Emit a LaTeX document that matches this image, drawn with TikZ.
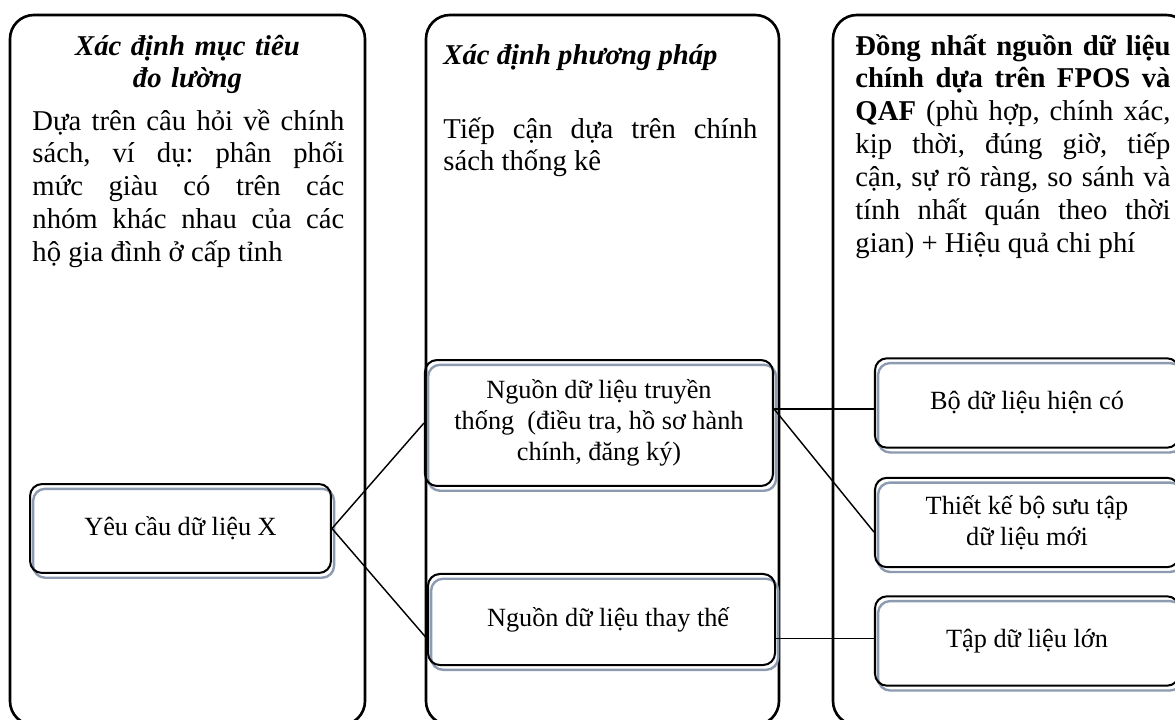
\documentclass[tikz,border=0pt]{standalone}
\usepackage{fontspec}
\setmainfont{Liberation Serif}
\usetikzlibrary{fit}
\definecolor{shadowgray}{RGB}{140,155,175}
\frenchspacing

\begin{document}
\begin{tikzpicture}[
  x=0.4184pt, y=-0.4184pt,
  colbox/.style={
    draw, rounded corners=10pt,
    line width=1.1pt,
    inner sep=0pt
  },
  inbox/.style={
    draw, rounded corners=5pt,
    line width=0.85pt,
    inner sep=0pt, align=center,
    font=\fontsize{11}{13}\selectfont,
    preaction={draw=shadowgray, line width=1pt,
      transform canvas={xshift=1.3pt, yshift=-2pt}}
  },
  rbox/.style={inbox, minimum width=127.2pt, minimum height=37.4pt},
  ttl/.style={font=\fontsize{12}{13.8}\selectfont\bfseries\itshape, inner sep=0pt},
  bodytxt/.style={font=\fontsize{12}{13.8}\selectfont, inner sep=0pt, align=justify},
  link/.style={draw, line width=0.6pt}
]
\useasboundingbox (0,0) rectangle (1175,720);

% --- three columns ---
\node[colbox, fit={(10,15) (365,725)}]  (goal) {};
\node[colbox, fit={(426,15) (779,725)}] (meth) {};
\node[colbox, fit={(833,15) (1190,725)}] (src) {};

% --- column texts ---
\node[ttl, text width=160pt, align=center, anchor=base] (goalTtl) at (187.5,55) {Xác định mục tiêu\\đo lường};
\node[bodytxt, text width=130.5pt, anchor=base west] (goalTxt) at (32,130)
  {Dựa trên câu hỏi về chính\linebreak sách, ví dụ: phân phối\linebreak mức giàu có trên các\linebreak nhóm khác nhau của các\linebreak hộ gia đình ở cấp tỉnh};

\node[ttl, anchor=base west] (methTtl) at (443,65) {Xác định phương pháp};
\node[bodytxt, text width=131.4pt, anchor=base west] (methTxt) at (443,138)
  {Tiếp cận dựa trên chính\linebreak sách thống kê};

\node[bodytxt, text width=131.8pt, anchor=base west] (srcTxt) at (855,55)
  {\textbf{Đồng nhất nguồn dữ liệu\linebreak chính dựa trên FPOS và\linebreak QAF} (phù hợp, chính xác,\linebreak kịp thời, đúng giờ, tiếp\linebreak cận, sự rõ ràng, so sánh và\linebreak tính nhất quán theo thời\linebreak gian) + Hiệu quả chi phí};

% --- inner boxes ---
\node[inbox, minimum width=125.9pt, minimum height=37.2pt] (req) at (180.5,528.5) {Yêu cầu dữ liệu X};
\node[inbox, minimum width=145.6pt, minimum height=52.7pt] (trad) at (599,423) {Nguồn dữ liệu truyền\\thống\ \ (điều tra, hồ sơ hành\\chính, đăng ký)};
\node[inbox, minimum width=145.2pt, minimum height=38.1pt] (alt) at (601.5,619.5) {\ \ Nguồn dữ liệu thay thế};
\node[rbox] (have) at (1027,403) {Bộ dữ liệu hiện có};
\node[rbox] (design) at (1027,522.5) {Thiết kế bộ sưu tập\\dữ liệu mới};
\node[rbox] (big) at (1027,641) {Tập dữ liệu lớn};

% --- connectors ---
\coordinate (tradOut) at ([yshift=5.9pt]trad.east);
\coordinate (altOut) at ([yshift=-8pt]alt.east);
\draw[link] (req.east) -- (trad.west);
\draw[link] (req.east) -- ([yshift=-8pt]alt.west);
\draw[link] (tradOut) -- (tradOut -| have.west);
\draw[link] (tradOut) -- ([yshift=-4pt]design.west);
\draw[link] (altOut) -- (altOut -| big.west);

\end{tikzpicture}
\end{document}
